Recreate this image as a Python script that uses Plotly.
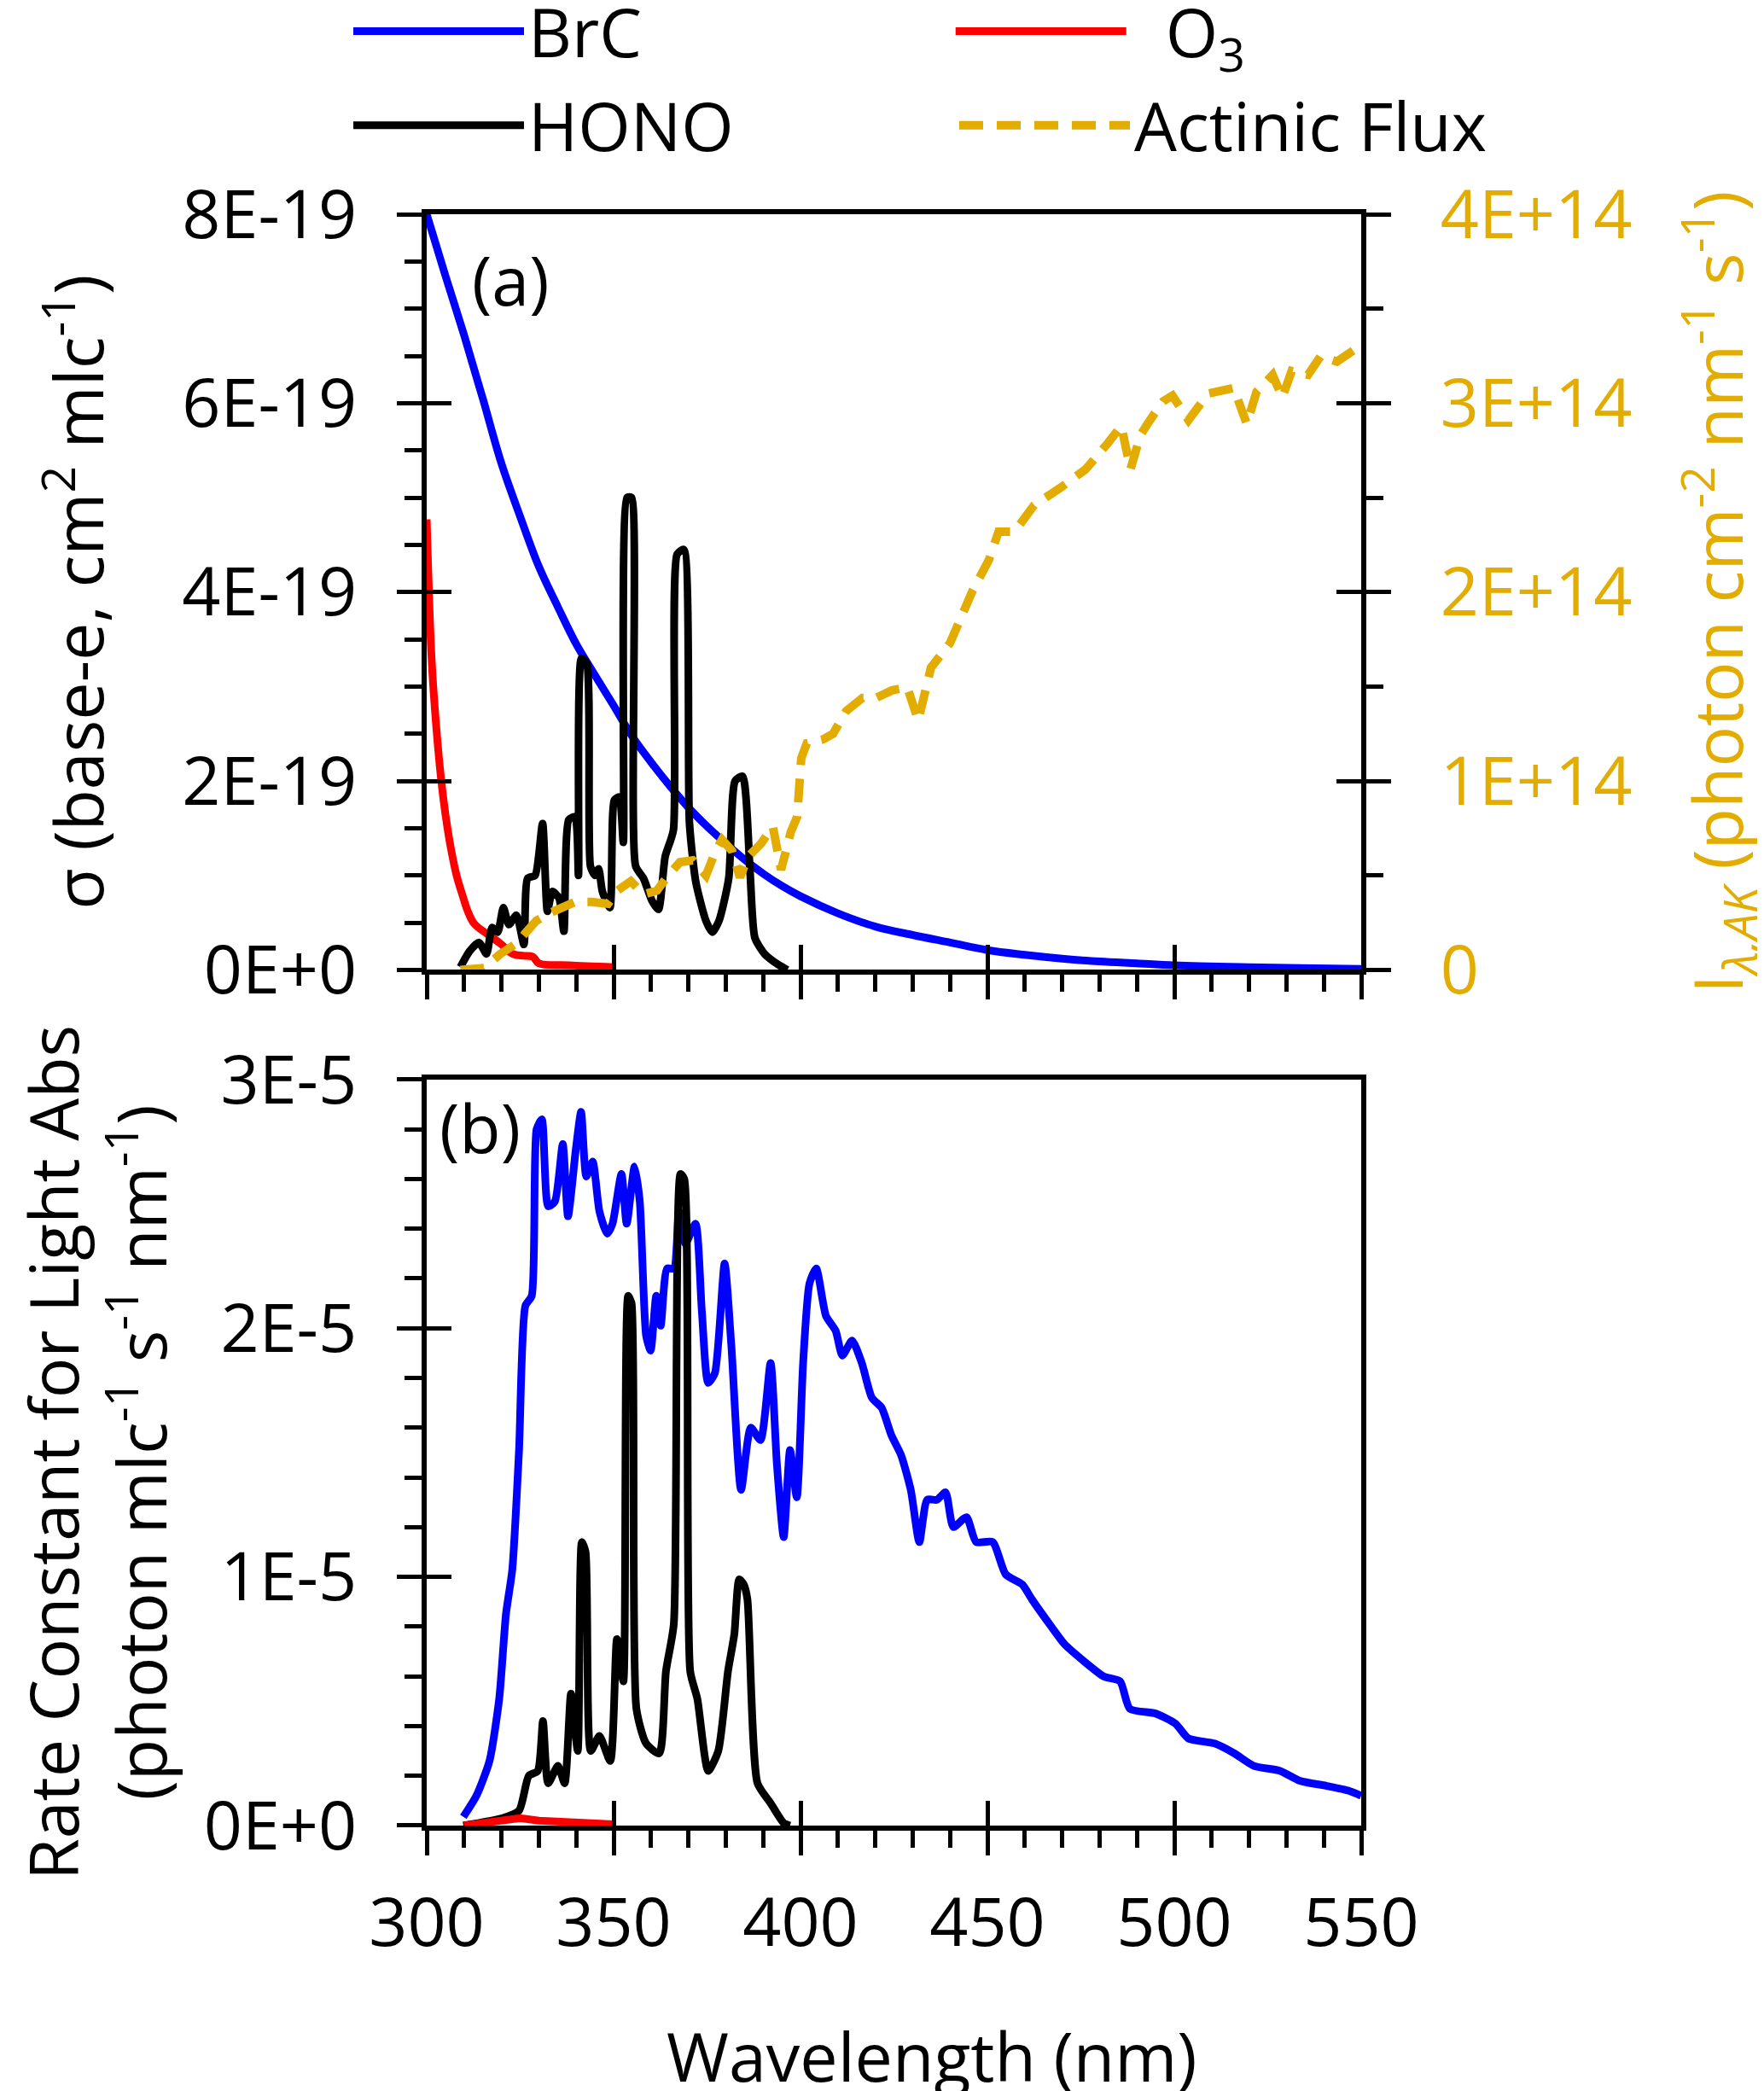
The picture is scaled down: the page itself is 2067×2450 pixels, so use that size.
import plotly.graph_objects as go

# ---- panel (a): absorption cross sections (units of 1E-19 cm2 mlc-1) ----
brc_a_wl = [300, 305, 310, 315, 320, 325, 330, 335, 340, 345, 350, 355, 360, 365, 370,
            375, 380, 385, 390, 395, 400, 410, 420, 430, 440, 450, 460, 470, 480, 490,
            500, 520, 550]
brc_a = [8.0, 7.35, 6.72, 6.05, 5.36, 4.8, 4.27, 3.85, 3.45, 3.12, 2.8, 2.47, 2.2, 1.95,
         1.72, 1.52, 1.34, 1.17, 1.02, 0.89, 0.78, 0.6, 0.46, 0.37, 0.29, 0.21, 0.16,
         0.12, 0.09, 0.07, 0.05, 0.03, 0.01]

o3_a_wl = [300, 301.3, 302.5, 303.9, 305, 306.5, 308, 309.5, 311, 312.7, 316.2, 319.7,
           323, 326, 328.4, 330, 338, 350]
o3_a = [4.77, 3.3, 2.6, 2.0, 1.65, 1.28, 1.0, 0.8, 0.62, 0.49, 0.38, 0.28, 0.17, 0.15,
        0.14, 0.07, 0.05, 0.03]

hono_a_wl = [309, 311.5, 314, 316, 317.5, 319, 320.5, 322, 324, 326, 327, 329, 331,
             332.3, 333.6, 335.4, 336.7, 338, 339.7, 340.6, 341.4, 342.8, 343.8, 345,
             346, 347, 349, 350.2, 351.5, 352.6, 353.6, 354.8, 355.9, 358, 360.3, 362,
             363.8, 366, 367, 368.8, 370.3, 372, 374.7, 376.4, 378.2, 380.8, 382.5,
             384.5, 386.5, 387.8, 390.4, 393.9, 396.5]
hono_a = [0.03, 0.2, 0.29, 0.17, 0.45, 0.4, 0.66, 0.48, 0.58, 0.27, 0.97, 1.0, 1.55,
          0.62, 0.83, 0.76, 0.41, 1.59, 1.62, 1.0, 3.3, 3.25, 1.1, 1.0, 1.07, 0.83,
          0.66, 1.8, 1.83, 1.35, 5.0, 5.0, 1.1, 0.97, 0.73, 0.64, 1.2, 1.48, 4.4, 4.45,
          1.55, 0.93, 0.52, 0.4, 0.52, 0.97, 2.0, 2.05, 1.04, 0.34, 0.17, 0.06, 0.0]

# actinic flux (units of 1E+14 photon cm-2 nm-1 s-1)
flux_wl = [309, 312, 315.3, 319.7, 324, 326.6, 329.3, 332.8, 336.2, 339.7, 344, 348.5,
           351, 354.6, 358, 361.6, 364.2, 367.7, 371.2, 374.7, 377.3, 379, 381.7, 383.8,
           386, 389.5, 392.6, 394.8, 397.4, 399.1, 400.2, 401.7, 406, 408.7, 412.2,
           416.6, 420.2, 424.5, 427, 428.5, 431.5, 434.9, 440, 446.1, 450.4, 453, 457.3,
           462.5, 469.4, 476.3, 482.3, 485.8, 488.3, 490.9, 493.5, 497, 499.5, 503.8,
           509, 515.9, 519.4, 522, 526.3, 528.9, 531.4, 535.8, 539.2, 543.5, 548.7, 550]
flux = [0.0, 0.0, 0.01, 0.085, 0.14, 0.2, 0.26, 0.3, 0.33, 0.36, 0.36, 0.35, 0.42, 0.47,
        0.4, 0.42, 0.49, 0.57, 0.58, 0.5, 0.63, 0.69, 0.63, 0.49, 0.6, 0.67, 0.76, 0.53,
        0.73, 0.81, 1.12, 1.2, 1.22, 1.25, 1.37, 1.44, 1.44, 1.48, 1.49, 1.5, 1.32, 1.6,
        1.73, 2.01, 2.17, 2.32, 2.32, 2.46, 2.55, 2.65, 2.79, 2.88, 2.65, 2.83, 2.91,
        3.01, 3.04, 2.91, 3.05, 3.08, 2.89, 3.06, 3.15, 3.03, 3.17, 3.15, 3.25, 3.22,
        3.29, 3.3]

# ---- panel (b): rate constants for light absorption (units of 1E-5) ----
brc_b_wl = [309.8, 313.3, 316.8, 319.4, 321.2, 322.9, 324.7, 326.4, 328.1, 329.4, 330.8,
            332.5, 334.3, 336.4, 337.8, 339.9, 341.3, 342.7, 344.4, 346.2, 348.3, 349.7,
            352.1, 353.5, 355.6, 357, 358.7, 359.9, 361.4, 362.6, 364.3, 366.1, 367.5,
            369.2, 371.9, 373.6, 375.3, 377.1, 379.7, 381.5, 384.1, 386.7, 389.3, 392,
            393.7, 395.5, 397.2, 399, 400.7, 402.4, 404.2, 406.8, 409.4, 411.2, 413.8,
            416.4, 419.1, 421.7, 424.3, 426.9, 429.5, 431.8, 433.9, 436.5, 438.8, 440.9,
            444.4, 447, 451.4, 454.9, 459.3, 461.9, 467.1, 470.6, 475.9, 481.1, 485.5,
            488.1, 495.1, 500.3, 503.8, 510.8, 516.1, 521.3, 528.3, 533.6, 540.6, 546.7,
            550]
brc_b = [0.035, 0.12, 0.26, 0.51, 0.85, 1.03, 1.51, 2.09, 2.13, 2.80, 2.84, 2.49, 2.51,
         2.74, 2.45, 2.72, 2.87, 2.61, 2.67, 2.47, 2.38, 2.42, 2.62, 2.42, 2.65, 2.51,
         1.97, 1.91, 2.13, 2.01, 2.24, 2.24, 2.47, 2.34, 2.42, 2.07, 1.78, 1.82, 2.26,
         1.93, 1.35, 1.60, 1.55, 1.86, 1.45, 1.16, 1.51, 1.32, 1.86, 2.18, 2.24, 2.05,
         1.99, 1.89, 1.95, 1.86, 1.72, 1.68, 1.57, 1.49, 1.35, 1.14, 1.31, 1.31, 1.34,
         1.20, 1.24, 1.14, 1.14, 1.01, 0.97, 0.91, 0.80, 0.73, 0.66, 0.60, 0.58, 0.47,
         0.45, 0.41, 0.35, 0.33, 0.29, 0.24, 0.22, 0.18, 0.16, 0.14, 0.12]

hono_b_wl = [309.8, 320.3, 324.7, 327.3, 329.7, 331.1, 332.5, 335.1, 336.9, 338.6, 340.4,
             341.5, 342.5, 343.9, 346.2, 349.1, 350.9, 352.6, 353.9, 354.8, 356.1, 358.7,
             362.2, 364, 366.1, 367.9, 368.9, 370.5, 372.4, 375.3, 378, 380.6, 382.3,
             383.6, 384.8, 385.8, 388.5, 392, 395.5, 397.2]
hono_b = [0.0, 0.03, 0.06, 0.2, 0.22, 0.42, 0.17, 0.24, 0.17, 0.53, 0.3, 1.14, 1.1, 0.3,
          0.36, 0.26, 0.75, 0.58, 2.13, 2.1, 0.47, 0.33, 0.29, 0.62, 0.81, 2.62, 2.6,
          0.62, 0.51, 0.22, 0.3, 0.62, 0.77, 0.99, 0.97, 0.91, 0.17, 0.09, 0.01, 0.0]

o3_b_wl = [310, 315, 320, 325, 330, 340, 350]
o3_b = [0.0, 0.01, 0.02, 0.03, 0.02, 0.01, 0.005]

# ---- ticks ----
x_ticks = [300, 350, 400, 450, 500, 550]
ya_ticks = [0, 2, 4, 6, 8]
ya_text = ["0E+0", "2E-19", "4E-19", "6E-19", "8E-19"]
yflux_ticks = [0, 1, 2, 3, 4]
yflux_text = ["0", "1E+14", "2E+14", "3E+14", "4E+14"]
yb_ticks = [0, 1, 2, 3]
yb_text = ["0E+0", "1E-5", "2E-5", "3E-5"]

BLUE = "#0000FF"
RED = "#FF0000"
BLACK = "#000000"
GOLD = "#E2AC00"
FONT = "Open Sans"
FS = 79
LW = 9

fig = go.Figure()

# panel (a)
fig.add_trace(go.Scatter(x=brc_a_wl, y=brc_a, name="BrC", mode="lines",
                         line=dict(color=BLUE, width=LW, shape="spline"),
                         xaxis="x2", yaxis="y2", legend="legend"))
fig.add_trace(go.Scatter(x=o3_a_wl, y=o3_a, name="\u00a0\u00a0O<sub>3</sub>", mode="lines",
                         line=dict(color=RED, width=LW, shape="spline"),
                         xaxis="x2", yaxis="y2", legend="legend2"))
fig.add_trace(go.Scatter(x=hono_a_wl, y=hono_a, name="HONO", mode="lines",
                         line=dict(color=BLACK, width=LW, shape="spline", smoothing=0.6),
                         xaxis="x2", yaxis="y2", legend="legend3"))
fig.add_trace(go.Scatter(x=flux_wl, y=flux, name="Actinic Flux", mode="lines",
                         line=dict(color=GOLD, width=10, dash="28px,16px"),
                         xaxis="x2", yaxis="y3", legend="legend4"))

# panel (b)
fig.add_trace(go.Scatter(x=brc_b_wl, y=brc_b, mode="lines",
                         line=dict(color=BLUE, width=LW, shape="spline", smoothing=0.6),
                         xaxis="x", yaxis="y", showlegend=False))
fig.add_trace(go.Scatter(x=hono_b_wl, y=hono_b, mode="lines",
                         line=dict(color=BLACK, width=LW, shape="spline", smoothing=0.6),
                         xaxis="x", yaxis="y", showlegend=False))
fig.add_trace(go.Scatter(x=o3_b_wl, y=o3_b, mode="lines", line=dict(color=RED, width=LW),
                         xaxis="x", yaxis="y", showlegend=False))

# empty traces so the inside-tick overlay axes get drawn
for xa, ya in [("x3", "y"), ("x", "y4"), ("x4", "y2"), ("x2", "y5"), ("x2", "y6")]:
    fig.add_trace(go.Scatter(x=[None], y=[None], xaxis=xa, yaxis=ya, showlegend=False, hoverinfo="skip"))

tickfont = dict(family=FONT, size=FS, color="black")
base = dict(showgrid=False, zeroline=False, automargin=False, tickcolor="black", tickwidth=5)
main = dict(base, showline=True, linewidth=6, linecolor="black", mirror=True,
            ticks="outside", ticklen=29, tickfont=tickfont, ticklabelstandoff=31)
inner = dict(base, showline=False, ticks="inside", ticklen=29, showticklabels=False)
minor_x = dict(ticks="outside", ticklen=20, tickwidth=5, tickcolor="black", tick0=300, dtick=10, showgrid=False)

ya_dom = [0.531, 1.0]
yb_dom = [0.0, 0.463]
ITEMW = 200


def legend_box(x, y):
    return dict(orientation="h", x=x, xanchor="left", y=y, yanchor="middle", itemwidth=ITEMW,
                bgcolor="rgba(0,0,0,0)", font=dict(family=FONT, size=FS, color="black"))


fig.update_layout(
    width=2067, height=2450,
    template="none",
    paper_bgcolor="white", plot_bgcolor="white",
    margin=dict(l=492, r=480, t=243, b=319, autoexpand=False),
    font=dict(family=FONT, size=FS, color="black"),
    # panel (b)
    xaxis=dict(main, anchor="y", range=[300, 550], tickmode="array", tickvals=x_ticks,
               ticktext=[str(v) for v in x_ticks], minor=minor_x, ticklabelstandoff=11),
    xaxis3=dict(inner, overlaying="x", anchor="y", range=[300, 550], tickmode="array", tickvals=x_ticks),
    yaxis=dict(main, domain=yb_dom, anchor="x", range=[0, 3], tickmode="array", tickvals=yb_ticks,
               ticktext=yb_text,
               minor=dict(ticks="outside", ticklen=20, tickwidth=5, tickcolor="black", tick0=0, dtick=0.2, showgrid=False),
               title=dict(text="Rate Constant for Light Abs<br>(photon mlc<sup>-1</sup> s<sup>-1</sup> nm<sup>-1</sup>)",
                          font=dict(family=FONT, size=FS), standoff=75)),
    yaxis4=dict(inner, overlaying="y", anchor="x", side="left", range=[0, 3], tickmode="array", tickvals=yb_ticks),
    # panel (a)
    xaxis2=dict(main, anchor="y2", range=[300, 550], tickmode="array", tickvals=x_ticks,
                showticklabels=False, minor=minor_x),
    xaxis4=dict(inner, overlaying="x2", anchor="y2", range=[300, 550], tickmode="array", tickvals=x_ticks),
    yaxis2=dict(main, domain=ya_dom, anchor="x2", range=[0, 8], tickmode="array", tickvals=ya_ticks,
                ticktext=ya_text,
                minor=dict(ticks="outside", ticklen=20, tickwidth=5, tickcolor="black", tick0=0, dtick=0.5, showgrid=False),
                title=dict(text="σ (base-e, cm<sup>2</sup> mlc<sup>-1</sup>)", font=dict(family=FONT, size=FS), standoff=68)),
    yaxis5=dict(inner, overlaying="y2", anchor="x2", side="left", range=[0, 8], tickmode="array", tickvals=ya_ticks),
    yaxis3=dict(base, overlaying="y2", anchor="x2", side="right", range=[0, 4], showline=True, linewidth=6,
                linecolor="black", ticks="outside", ticklen=29, tickmode="array", tickvals=yflux_ticks,
                ticktext=yflux_text, tickfont=dict(family=FONT, size=FS, color=GOLD), ticklabelstandoff=42,
                minor=dict(ticks="outside", ticklen=20, tickwidth=5, tickcolor="black", tick0=0, dtick=0.5, showgrid=False),
                title=dict(text="I<sub><i>λ,AK</i></sub> (photon cm<sup>-2</sup> nm<sup>-1</sup> s<sup>-1</sup>)",
                           font=dict(family=FONT, size=FS, color=GOLD), standoff=88)),
    yaxis6=dict(inner, overlaying="y2", anchor="x2", side="right", range=[0, 4], tickmode="array", tickvals=yflux_ticks),
    legend=legend_box(-0.0831, 1.1135),
    legend2=legend_box(0.5614, 1.1135),
    legend3=legend_box(-0.0831, 1.0552),
    legend4=legend_box(0.5653, 1.0552),
    annotations=[
        dict(text="(a)", xref="x2 domain", yref="y2 domain", x=0.047, y=0.976, xanchor="left", yanchor="top",
             showarrow=False, font=dict(family=FONT, size=FS, color="black")),
        dict(text="(b)", xref="x domain", yref="y domain", x=0.012, y=1.0, xanchor="left", yanchor="top",
             showarrow=False, font=dict(family=FONT, size=FS, color="black")),
        dict(text="Wavelength (nm)", xref="paper", yref="paper", x=0.541, y=-0.143, xanchor="center",
             yanchor="middle", showarrow=False, font=dict(family=FONT, size=FS, color="black")),
    ],
)

fig.write_html("out.html")
